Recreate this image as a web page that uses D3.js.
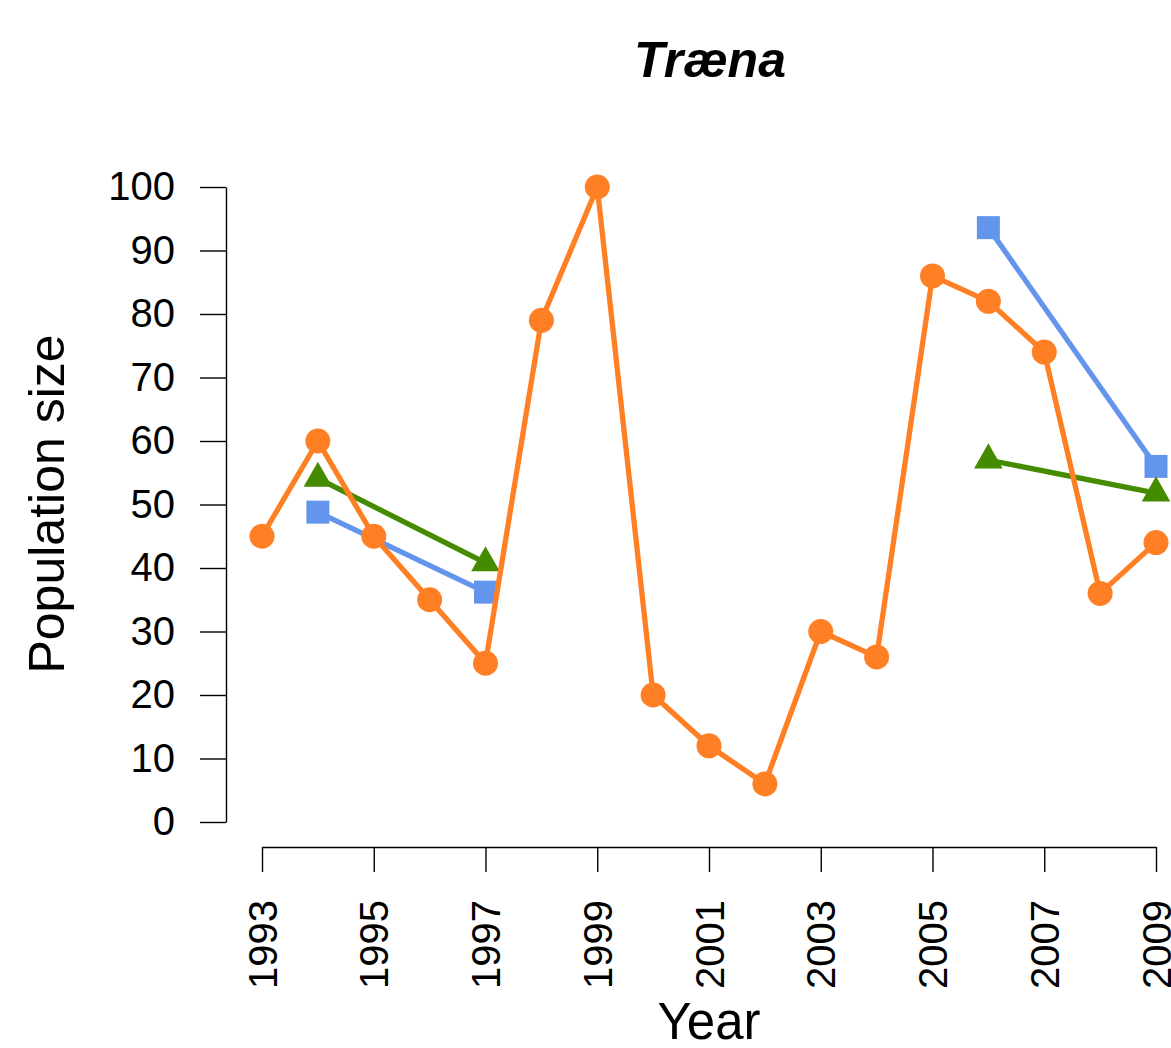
<!DOCTYPE html>
<html>
<head>
<meta charset="utf-8">
<script src="https://cdn.jsdelivr.net/npm/d3@7"></script>
<style>
  html, body { margin: 0; padding: 0; background: #ffffff; }
  svg { display: block; }
  text { font-family: "Liberation Sans", Arial, Helvetica, sans-serif; fill: #000; }
</style>
</head>
<body>
<svg id="chart" width="1171" height="1048"></svg>
<script>
// Annual population counts, Træna
const years = [1993, 1994, 1995, 1996, 1997, 1998, 1999, 2000, 2001,
               2002, 2003, 2004, 2005, 2006, 2007, 2008, 2009];
const circleValues = [45, 60, 45, 35, 25, 79, 100, 20, 12,
                      6, 30, 26, 86, 82, 74, 36, 44];

// Survey series with separate runs (a new run starts a new line)
const squareYears  = [1994, 1997, 2006, 2009];
const squareValues = [48.8, 36.2, 93.6, 56.0];
const squareRun    = [0, 0, 1, 1];

const triangleYears  = [1994, 1997, 2006, 2009];
const triangleValues = [54.1, 40.8, 57.0, 51.8];
const triangleRun    = [0, 0, 1, 1];

const xTickYears  = [1993, 1995, 1997, 1999, 2001, 2003, 2005, 2007, 2009];
const yTickValues = [0, 10, 20, 30, 40, 50, 60, 70, 80, 90, 100];

const titleText = "Træna";
const xLabel = "Year";
const yLabel = "Population size";

const colors = { circle: "#FF7F24", square: "#6495ED", triangle: "#458B00" };

const svg = d3.select("#chart");

const x = d3.scaleLinear().domain([1993, 2009]).range([262, 1156]);
const y = d3.scaleLinear().domain([0, 100]).range([822, 187]);

const axisX0 = 226;   // left axis position
const axisY0 = 847;   // bottom axis position

// Y axis
const yAxis = d3.axisLeft(y)
  .tickValues(yTickValues)
  .tickSize(26)
  .tickSizeOuter(0)
  .tickPadding(25)
  .tickFormat(d3.format("d"));
const gy = svg.append("g")
  .attr("transform", `translate(${axisX0},0)`)
  .call(yAxis);
gy.selectAll("path, line").attr("stroke", "#000").attr("stroke-width", 1.4);
gy.selectAll("text").style("font-size", "40px").attr("fill", "#000");

// X axis
const xAxis = d3.axisBottom(x)
  .tickValues(xTickYears)
  .tickSize(25)
  .tickSizeOuter(0)
  .tickFormat(d3.format("d"));
const gx = svg.append("g")
  .attr("transform", `translate(0,${axisY0})`)
  .call(xAxis);
gx.selectAll("path, line").attr("stroke", "#000").attr("stroke-width", 1.4);
gx.selectAll("text")
  .style("font-size", "40px")
  .attr("text-anchor", "end")
  .attr("y", null)
  .attr("x", null)
  .attr("dy", "0.35em")
  .attr("transform", "translate(0,53) rotate(-90)");

// Titles
svg.append("text")
  .attr("x", 710).attr("y", 77)
  .attr("text-anchor", "middle")
  .style("font-size", "50px")
  .style("font-weight", "bold")
  .style("font-style", "italic")
  .text(titleText);

svg.append("text")
  .attr("x", 709).attr("y", 1039)
  .attr("text-anchor", "middle")
  .style("font-size", "51px")
  .text(xLabel);

svg.append("text")
  .attr("transform", "translate(64,504) rotate(-90)")
  .attr("text-anchor", "middle")
  .style("font-size", "50px")
  .text(yLabel);

const line = d3.line().x(d => x(d.year)).y(d => y(d.value));

function runs(ys, vs, rs) {
  const pts = ys.map((yr, i) => ({ year: yr, value: vs[i], run: rs[i] }));
  return { pts, groups: Array.from(d3.group(pts, d => d.run).values()) };
}

// Square series
const sq = runs(squareYears, squareValues, squareRun);
svg.append("g").selectAll("path").data(sq.groups).join("path")
  .attr("d", line).attr("fill", "none")
  .attr("stroke", colors.square).attr("stroke-width", 5.3);
const sqSide = 23;
svg.append("g").selectAll("rect").data(sq.pts).join("rect")
  .attr("x", d => x(d.year) - sqSide / 2)
  .attr("y", d => y(d.value) - sqSide / 2)
  .attr("width", sqSide).attr("height", sqSide)
  .attr("fill", colors.square);

// Triangle series
const tr = runs(triangleYears, triangleValues, triangleRun);
svg.append("g").selectAll("path").data(tr.groups).join("path")
  .attr("d", line).attr("fill", "none")
  .attr("stroke", colors.triangle).attr("stroke-width", 5.3);
const tR = 16.7, tHalf = 14.3;
svg.append("g").selectAll("path").data(tr.pts).join("path")
  .attr("d", d => {
    const cx = x(d.year), cy = y(d.value);
    return `M${cx},${cy - tR}L${cx + tHalf},${cy + tR / 2}L${cx - tHalf},${cy + tR / 2}Z`;
  })
  .attr("fill", colors.triangle);

// Circle series (drawn on top)
const circ = years.map((yr, i) => ({ year: yr, value: circleValues[i] }));
svg.append("path").datum(circ)
  .attr("d", line).attr("fill", "none")
  .attr("stroke", colors.circle).attr("stroke-width", 5.3)
  .attr("stroke-linejoin", "round");
svg.append("g").selectAll("circle").data(circ).join("circle")
  .attr("cx", d => x(d.year)).attr("cy", d => y(d.value))
  .attr("r", 12.5)
  .attr("fill", colors.circle);
</script>
</body>
</html>
